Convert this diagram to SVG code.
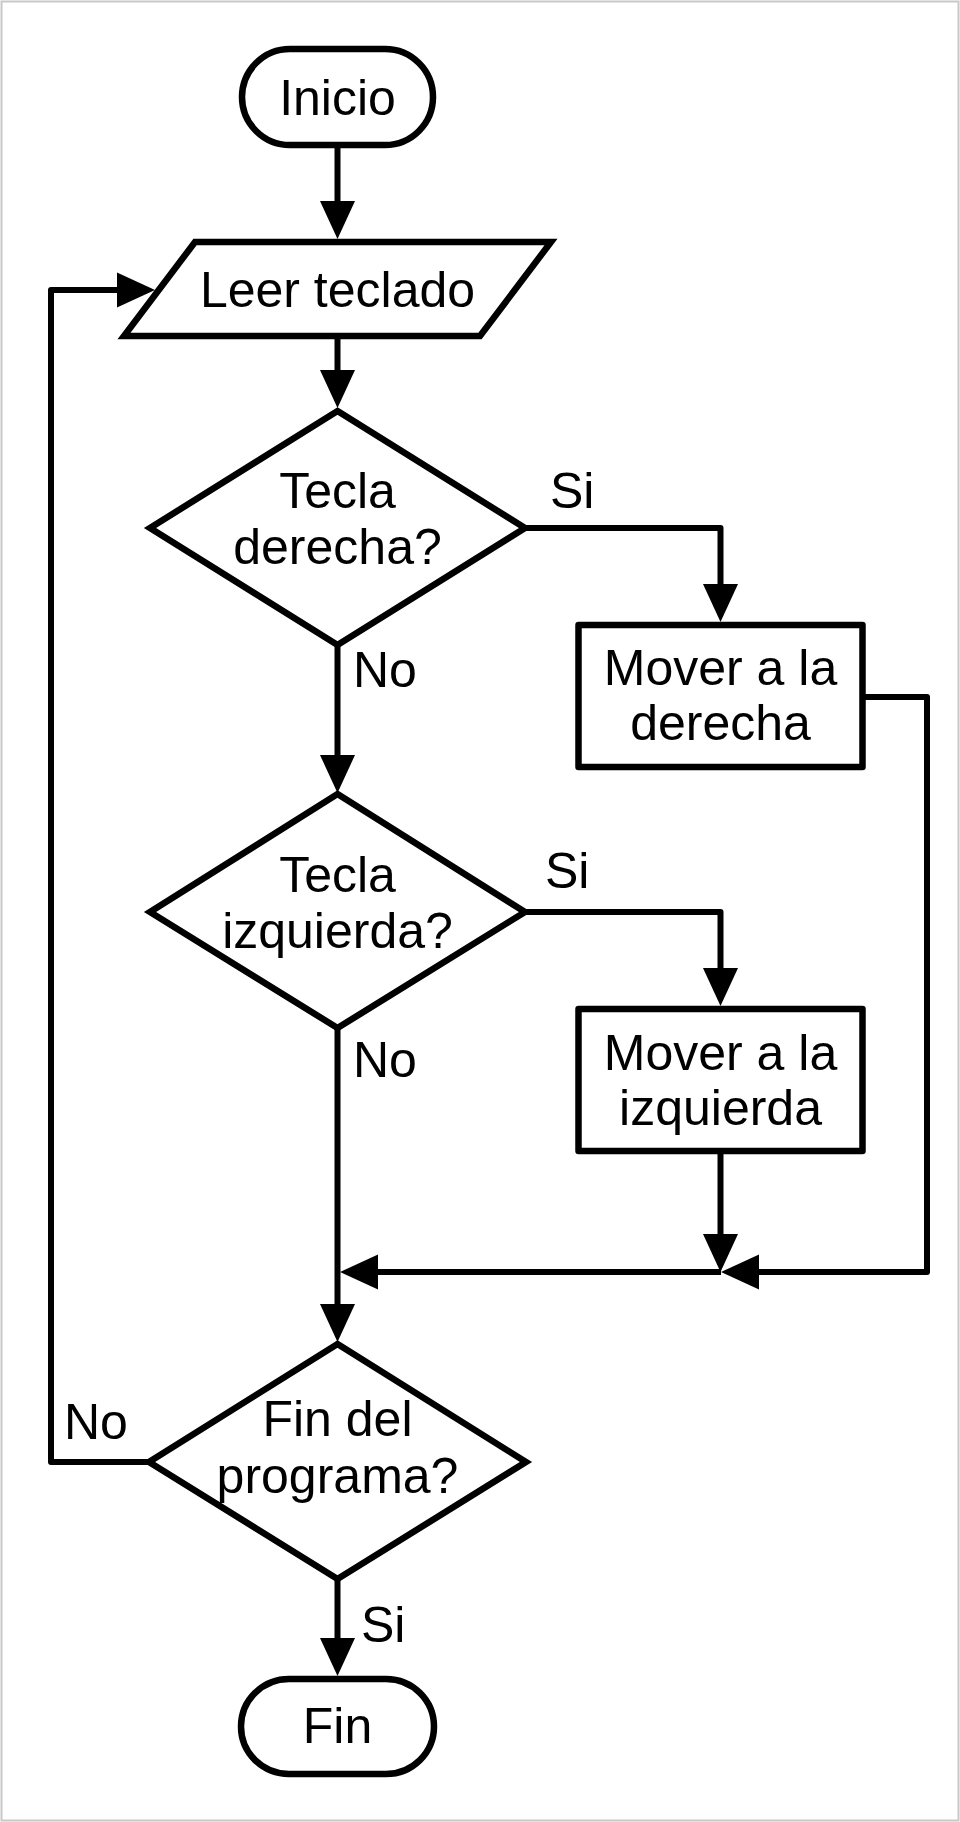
<svg xmlns="http://www.w3.org/2000/svg" width="960" height="1822" viewBox="0 0 960 1822">
<style>
.shape{fill:#ffffff;stroke:#000000;stroke-width:6.5;stroke-linejoin:miter}
.box{fill:#ffffff;stroke:#000000;stroke-width:6.5;stroke-linejoin:round}
.conn{fill:none;stroke:#000000;stroke-width:6;stroke-linejoin:round;marker-end:url(#arr)}
.plain{fill:none;stroke:#000000;stroke-width:6;stroke-linejoin:round}
text{font-family:"Liberation Sans",Arial,sans-serif;font-size:50px;fill:#000000}
.c{text-anchor:middle}
</style>
<defs>
<marker id="arr" markerUnits="userSpaceOnUse" markerWidth="40" markerHeight="36" refX="0" refY="18" orient="auto" overflow="visible">
<path d="M-1,0.5 L37,18 L-1,35.5 z" fill="#000000"/>
</marker>
</defs>
<rect x="0" y="0" width="960" height="1822" fill="#ffffff"/>
<rect x="1.5" y="1.5" width="957" height="1819" fill="none" stroke="#c8c8c8" stroke-width="2"/>

<g id="connectors">
<path class="conn" d="M337.5,145 V202"/>
<path class="conn" d="M337.5,336 V371"/>
<path class="conn" d="M525,528 H720.5 V585"/>
<path class="conn" d="M337.5,645 V756"/>
<path class="conn" d="M525,912 H720.5 V969"/>
<path class="conn" d="M862.5,697 H927 V1272 H758"/>
<path class="conn" d="M720.5,1151 V1235"/>
<path class="conn" d="M721,1272 H377"/>
<path class="conn" d="M337.5,1028 V1305"/>
<path class="conn" d="M149,1462 H51 V290 H118"/>
<path class="conn" d="M337.5,1579 V1639"/>
</g>

<g id="labels">
<text x="550" y="508">Si</text>
<text x="353" y="687">No</text>
<text x="545" y="888">Si</text>
<text x="353" y="1077">No</text>
<text x="64" y="1439">No</text>
<text x="361" y="1642">Si</text>
</g>

<g id="inicio">
<rect class="box" x="242" y="49" width="191" height="96" rx="48" ry="48"/>
<text class="c" x="337.5" y="115">Inicio</text>
</g>

<g id="leer">
<polygon class="shape" points="195,242 551,242 480,336 124,336"/>
<text class="c" x="337.5" y="307">Leer teclado</text>
</g>

<g id="decision-derecha">
<polygon class="shape" points="337.5,411 525,528 337.5,645 150,528"/>
<text class="c" x="337.5" y="508">Tecla</text>
<text class="c" x="337.5" y="564">derecha?</text>
</g>

<g id="mover-derecha">
<rect class="box" x="578.5" y="625" width="284" height="142"/>
<text class="c" x="720.5" y="685">Mover a la</text>
<text class="c" x="720.5" y="740">derecha</text>
</g>

<g id="decision-izquierda">
<polygon class="shape" points="337.5,794 525,912 337.5,1028 150,912"/>
<text class="c" x="337.5" y="892">Tecla</text>
<text class="c" x="337.5" y="948">izquierda?</text>
</g>

<g id="mover-izquierda">
<rect class="box" x="578.5" y="1009" width="284" height="142"/>
<text class="c" x="720.5" y="1070">Mover a la</text>
<text class="c" x="720.5" y="1125">izquierda</text>
</g>

<g id="decision-fin">
<polygon class="shape" points="337.5,1344 526,1462 337.5,1579 149,1462"/>
<text class="c" x="337.5" y="1436">Fin del</text>
<text class="c" x="337.5" y="1493">programa?</text>
</g>

<g id="fin">
<rect class="box" x="241" y="1679" width="193" height="95" rx="48" ry="47.5"/>
<text class="c" x="337.5" y="1743">Fin</text>
</g>
</svg>
